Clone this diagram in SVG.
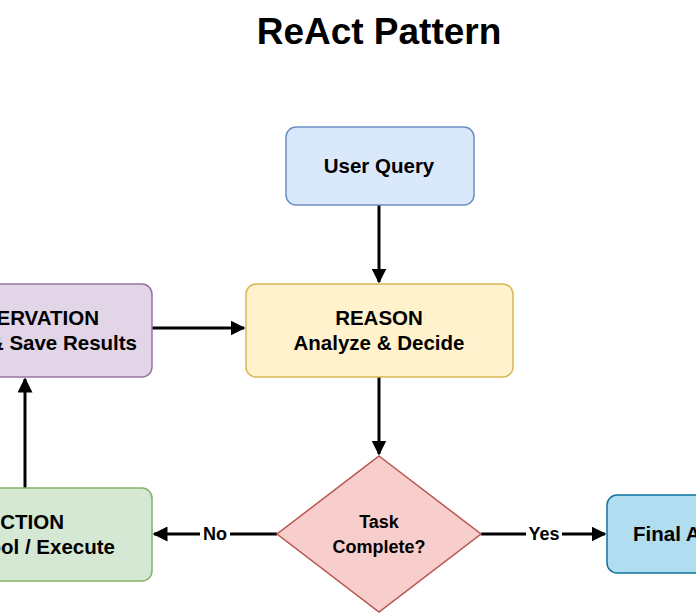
<svg xmlns="http://www.w3.org/2000/svg" width="696" height="614" viewBox="0 0 696 614">
<defs>
<marker id="ah" viewBox="0 0 10 10" refX="9" refY="5" markerWidth="5" markerHeight="5" orient="auto"><path d="M0,0 L10,5 L0,10 z" fill="#000"/></marker>
</defs>
<style>
text{font-family:"Liberation Sans",Arial,sans-serif;font-weight:bold;fill:#000}
.n{font-size:20.5px;text-anchor:middle}
.e{font-size:20.5px;text-anchor:end}
.l{font-size:18px;text-anchor:middle}
.c{stroke:#000;stroke-width:3;fill:none;marker-end:url(#ah)}
</style>
<rect width="696" height="614" fill="#fff"/>
<text x="379" y="44" style="font-size:37px;text-anchor:middle">ReAct Pattern</text>
<g id="connectors">
<line class="c" x1="379" y1="205" x2="379" y2="282"/>
<line class="c" x1="379" y1="377" x2="379" y2="454"/>
<line class="c" x1="277" y1="534" x2="154" y2="534"/>
<line class="c" x1="481" y1="534" x2="605" y2="534"/>
<line class="c" x1="25" y1="488" x2="25" y2="379"/>
<line class="c" x1="152" y1="328" x2="244" y2="328"/>
<rect x="200" y="524" width="30" height="20" fill="#fff"/>
<text class="l" x="215" y="540">No</text>
<rect x="526" y="524" width="36" height="20" fill="#fff"/>
<text class="l" x="544" y="540">Yes</text>
</g>
<g id="user-query"><rect x="286" y="127" width="188" height="78" rx="10" fill="#dae8fc" stroke="#6c8ebf" stroke-width="1.5"/><text class="n" x="379" y="173">User Query</text></g>
<g id="reason"><rect x="246" y="284" width="267" height="93" rx="10" fill="#fff2cc" stroke="#d6b656" stroke-width="1.5"/><text class="n" x="379" y="325">REASON</text><text class="n" x="379" y="350">Analyze &amp; Decide</text></g>
<g id="observation"><rect x="-110" y="284" width="262" height="93" rx="10" fill="#e1d5e7" stroke="#9673a6" stroke-width="1.5"/><text class="e" x="99" y="325">ERVATION</text><text class="e" x="137" y="350">&amp; Save Results</text></g>
<g id="action"><rect x="-110" y="488" width="262" height="93" rx="10" fill="#d5e8d4" stroke="#82b366" stroke-width="1.5"/><text class="e" x="64" y="529">CTION</text><text class="e" x="115" y="554">ool / Execute</text></g>
<g id="decision"><polygon points="379,456 481,534 379,612 277,534" fill="#f8cecc" stroke="#b85450" stroke-width="1.5"/><text class="l" x="379" y="528">Task</text><text class="l" x="379" y="553">Complete?</text></g>
<g id="final"><rect x="607" y="495" width="200" height="78" rx="10" fill="#b1ddf0" stroke="#10739e" stroke-width="1.5"/><text x="633" y="541" style="font-size:20.5px">Final A</text></g>
</svg>
